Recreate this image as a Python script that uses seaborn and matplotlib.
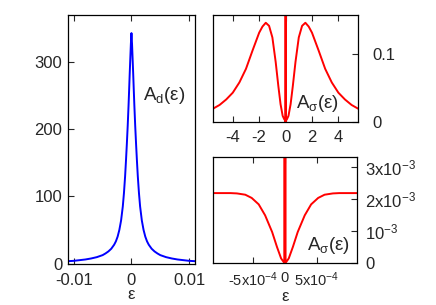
import matplotlib
matplotlib.use("Agg")
import matplotlib.pyplot as plt
import seaborn as sns

# A_d(eps): narrow peak (left panel), symmetric about 0
eps_d_half = [-0.011, -0.010, -0.009, -0.008, -0.007, -0.006, -0.005, -0.0045,
              -0.004, -0.0035, -0.003, -0.0027, -0.0024, -0.0021, -0.0018,
              -0.0015, -0.0013, -0.0011, -0.00095, -0.0008, -0.00065, -0.0005,
              -0.0004, -0.0003, -0.0002, -0.0001, 0.0]
a_d_half = [3.5, 4, 5, 6, 7.5, 9.5, 12.5, 15,
            18, 22, 28, 33, 40, 50, 64,
            85, 105, 130, 153, 178, 205, 236,
            259, 283, 305, 327, 343]

# A_sigma(eps): broad two-peak shape plus fine dip and spike at 0
eps_s_half = [-5.5, -5.0, -4.5, -4.0, -3.5, -3.0, -2.5, -2.0, -1.75, -1.5,
              -1.25, -1.0, -0.75, -0.55, -0.38, -0.22, -0.1, -0.03,
              -0.0011, -0.00085, -0.00075, -0.00062, -0.00052, -0.00041,
              -0.00031, -0.0002, -0.000125, -0.00006, -0.00001]
a_s_half = [0.0195, 0.025, 0.033, 0.043, 0.058, 0.078, 0.105, 0.131, 0.140, 0.1455,
            0.141, 0.124, 0.088, 0.053, 0.026, 0.009, 0.004, 0.0023,
            0.00218, 0.00218, 0.00217, 0.00213, 0.00203, 0.00183,
            0.00149, 0.00097, 0.00051, 0.00015, 0.00001]
spike_eps = 0.0
spike_height = 1.0

eps_d = eps_d_half + [-e for e in eps_d_half[-2::-1]]
a_d = a_d_half + a_d_half[-2::-1]
eps_s = eps_s_half + [spike_eps] + [-e for e in eps_s_half[::-1]]
a_s = a_s_half + [spike_height] + a_s_half[::-1]

d_xticks = [-0.01, 0, 0.01]
d_xlabels = ["-0.01", "0", "0.01"]
d_yticks = [0, 100, 200, 300]
s_xticks = [-4, -2, 0, 2, 4]
s_xlabels = ["-4", "-2", "0", "2", "4"]
s_yticks = [0, 0.1]
s_ylabels = ["0", "0.1"]
f_xticks = [-5e-4, 0, 5e-4]
f_xlabels = ["-5x10$^{-4}$", "0", "5x10$^{-4}$"]
f_yticks = [0, 1e-3, 2e-3, 3e-3]
f_ylabels = ["0", "10$^{-3}$", "2x10$^{-3}$", "3x10$^{-3}$"]

sns.set_style("white")
plt.rcParams["font.family"] = ["Liberation Sans", "DejaVu Sans"]
plt.rcParams["mathtext.default"] = "regular"
plt.rcParams["axes.edgecolor"] = "black"
plt.rcParams["axes.linewidth"] = 0.9

fig = plt.figure(figsize=(4.36, 3.05), dpi=100)
ax_d = fig.add_axes([0.156, 0.136, 0.291, 0.815])
ax_s = fig.add_axes([0.4885, 0.6, 0.333, 0.351])
ax_f = fig.add_axes([0.4885, 0.137, 0.330, 0.348])

fs = 12
lw = 1.4
sns.lineplot(x=eps_d, y=a_d, ax=ax_d, color="#0000ff", linewidth=lw, sort=False, errorbar=None)
ax_d.set_xlim(-0.011, 0.011)
ax_d.set_ylim(0, 370)
ax_d.set_xticks(d_xticks, d_xlabels)
ax_d.set_yticks(d_yticks)
ax_d.tick_params(direction="in", length=4.5, width=0.8, labelsize=fs,
                 top=True, bottom=True, left=True, right=False)
ax_d.tick_params(axis="x", pad=7)
ax_d.tick_params(axis="y", pad=4)
ax_d.set_xlabel("ε", fontsize=fs, labelpad=-1)
ax_d.text(0.59, 0.659, "A$_{d}$(ε)", transform=ax_d.transAxes, fontsize=13.5,
          ha="left", va="baseline")

for ax in (ax_s, ax_f):
    sns.lineplot(x=eps_s, y=a_s, ax=ax, color="#ff0000", linewidth=lw, sort=False, errorbar=None)
    ax.yaxis.tick_right()
    ax.tick_params(direction="in", length=4.5, width=0.8, labelsize=fs,
                   top=True, bottom=True, left=False, right=True)

ax_s.set_xlim(-5.5, 5.5)
ax_s.set_ylim(0, 0.157)
ax_s.set_xticks(s_xticks, s_xlabels)
ax_s.set_yticks(s_yticks, s_ylabels)
ax_s.tick_params(axis="x", pad=6)
ax_s.tick_params(axis="y", pad=10)
ax_s.text(0.572, 0.128, "A$_{σ}$(ε)", transform=ax_s.transAxes, fontsize=13.5,
          ha="left", va="baseline")

ax_f.set_xlim(-1.125e-3, 1.125e-3)
ax_f.set_ylim(0, 3.3e-3)
ax_f.set_xticks(f_xticks, f_xlabels)
ax_f.set_yticks(f_yticks, f_ylabels)
ax_f.tick_params(axis="x", pad=5.5, labelsize=10.5)
ax_f.tick_params(axis="y", pad=6)
ax_f.set_xlabel("ε", fontsize=fs, labelpad=0)
ax_f.text(0.65, 0.129, "A$_{σ}$(ε)", transform=ax_f.transAxes, fontsize=13.5,
          ha="left", va="baseline")

fig.savefig("out.png", dpi=100)
